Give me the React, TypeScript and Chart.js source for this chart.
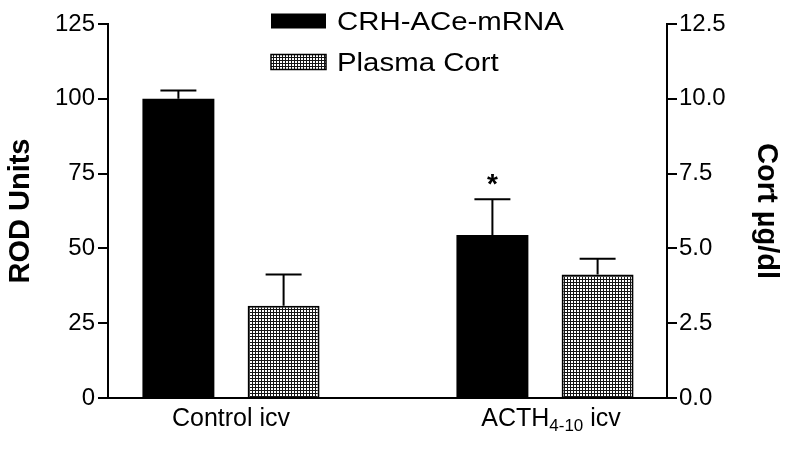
import React, { useEffect, useRef } from "react";
import { Chart, registerables } from "chart.js";

Chart.register(...registerables);

// ---- data ----
const categories: string[][] = [["Control icv"], ["ACTH", "4-10", " icv"]]; // odd segments are subscripts
const seriesNames = ["CRH-ACe-mRNA", "Plasma Cort"];
const rodValues = [100, 54.5];
const rodErrors = [2.8, 11.9];
const cortValues = [3.08, 4.13];
const cortErrors = [1.05, 0.52];
const significance = ["", "*"];
const leftTicks = [0, 25, 50, 75, 100, 125];
const rightTicks = [0, 2.5, 5, 7.5, 10, 12.5];
const leftTitle = "ROD Units";
const rightTitle = "Cort \u00B5g/dl";

const FONT = "'Liberation Sans', Arial, Helvetica, sans-serif";

export default function App() {
  const ref = useRef<HTMLCanvasElement | null>(null);

  useEffect(() => {
    const canvas = ref.current;
    if (!canvas) return;
    const ctx = canvas.getContext("2d")!;

    const pc = document.createElement("canvas");
    pc.width = 3;
    pc.height = 3;
    const p = pc.getContext("2d")!;
    p.fillStyle = "#ffffff";
    p.fillRect(0, 0, 3, 3);
    p.fillStyle = "#151515";
    p.fillRect(0, 0, 3, 1);
    p.fillRect(0, 0, 1, 3);
    const pattern = ctx.createPattern(pc, "repeat")!;

    const errorPlugin = {
      id: "errorBars",
      afterDatasetsDraw(chart: any) {
        const c = chart.ctx;
        c.save();
        c.strokeStyle = "#000";
        c.lineWidth = 2;
        chart.data.datasets.forEach((ds: any, di: number) => {
          const meta = chart.getDatasetMeta(di);
          const ys = chart.scales[ds.yAxisID];
          meta.data.forEach((bar: any, i: number) => {
            const v = ds.data[i].y;
            const e = ds.errors[i];
            const yTop = ys.getPixelForValue(v + e);
            const yBar = ys.getPixelForValue(v);
            const half = bar.width / 4;
            c.beginPath();
            c.moveTo(bar.x, yBar);
            c.lineTo(bar.x, yTop);
            c.moveTo(bar.x - half, yTop);
            c.lineTo(bar.x + half, yTop);
            c.stroke();
            const mark = ds.marks ? ds.marks[i] : "";
            if (mark) {
              c.fillStyle = "#000";
              c.font = `bold 28px ${FONT}`;
              c.textAlign = "center";
              c.textBaseline = "alphabetic";
              c.fillText(mark, bar.x, yTop - 6);
            }
          });
        });
        c.restore();
      },
    };

    const labelPlugin = {
      id: "catLabels",
      afterDraw(chart: any) {
        const c = chart.ctx;
        const xs = chart.scales.x;
        const base = chart.chartArea.bottom + 28;
        c.save();
        c.fillStyle = "#000";
        c.textBaseline = "alphabetic";
        c.textAlign = "left";
        categories.forEach((segs, i) => {
          const fonts = segs.map((_, k) => (k % 2 === 1 ? `17px ${FONT}` : `25px ${FONT}`));
          let total = 0;
          const widths = segs.map((s, k) => {
            c.font = fonts[k];
            const w = c.measureText(s).width;
            total += w;
            return w;
          });
          let x = xs.getPixelForValue(i) - total / 2 + (segs.length > 1 ? 6 : 0);
          segs.forEach((s, k) => {
            c.font = fonts[k];
            c.fillText(s, x, base + (k % 2 === 1 ? 5 : 0));
            x += widths[k];
          });
        });
        c.restore();
      },
    };

    const legendPlugin = {
      id: "customLegend",
      afterDraw(chart: any) {
        const c = chart.ctx;
        const left = chart.chartArea.left + 163;
        const rows = [21, 62];
        const stretch = 1.13;
        c.save();
        chart.data.datasets.forEach((ds: any, i: number) => {
          const cy = rows[i];
          c.fillStyle = ds.backgroundColor;
          c.fillRect(left, cy - 7.5, 55, 15);
          if (ds.borderWidth) {
            c.strokeStyle = "#000";
            c.lineWidth = 1.5;
            c.strokeRect(left, cy - 7.5, 55, 15);
          }
          c.save();
          c.translate(left + 66, cy + 2);
          c.scale(stretch, 1);
          c.fillStyle = "#000";
          c.font = `26px ${FONT}`;
          c.textAlign = "left";
          c.textBaseline = "middle";
          c.fillText(ds.label, 0, 0);
          c.restore();
        });
        c.restore();
      },
    };

    const tickFont = { family: FONT, size: 24 };
    const titleFont = { family: FONT, size: 29, weight: "bold" as const };

    const chart = new Chart(canvas, {
      type: "bar",
      data: {
        datasets: [
          {
            label: seriesNames[0],
            data: rodValues.map((v, i) => ({ x: i, y: v })),
            backgroundColor: "#000000",
            borderWidth: 0,
            yAxisID: "y",
            errors: rodErrors,
            marks: significance,
            categoryPercentage: 0.67,
            barPercentage: 0.684,
          } as any,
          {
            label: seriesNames[1],
            data: cortValues.map((v, i) => ({ x: i, y: v })),
            backgroundColor: pattern,
            borderColor: "#000000",
            borderWidth: 2,
            yAxisID: "y1",
            errors: cortErrors,
            categoryPercentage: 0.67,
            barPercentage: 0.684,
          } as any,
        ],
      },
      options: {
        animation: false,
        responsive: false,
        maintainAspectRatio: false,
        layout: { padding: { top: 24, left: 0, right: 0, bottom: 0 } },
        plugins: { legend: { display: false }, tooltip: { enabled: false } },
        scales: {
          x: {
            type: "linear",
            bounds: "data",
            offset: false,
            min: -0.3917,
            max: 1.3885,
            afterDataLimits: (s: any) => {
              s.min = -0.3917;
              s.max = 1.3885;
            },
            afterBuildTicks: (s: any) => {
              s.ticks = categories.map((_, i) => ({ value: i }));
              s.min = -0.3917;
              s.max = 1.3885;
            },
            afterFit: (s: any) => {
              s.height = 51;
            },
            ticks: { display: false },
            grid: { display: false, drawTicks: false, offset: false },
            border: { display: true, color: "#000", width: 2 },
          },
          y: {
            position: "left",
            min: 0,
            max: 125,
            afterBuildTicks: (s: any) => {
              s.ticks = leftTicks.map((v) => ({ value: v }));
            },
            afterFit: (s: any) => {
              s.width = 108;
            },
            ticks: { color: "#000", font: tickFont, padding: 3 },
            grid: { display: true, drawOnChartArea: false, drawTicks: true, tickLength: 10, color: "#000", lineWidth: 2 },
            border: { display: true, color: "#000", width: 2 },
            title: { display: true, text: leftTitle, color: "#000", font: titleFont, padding: { top: 4, bottom: 0 } },
          },
          y1: {
            position: "right",
            min: 0,
            max: 12.5,
            afterBuildTicks: (s: any) => {
              s.ticks = rightTicks.map((v) => ({ value: v }));
            },
            afterFit: (s: any) => {
              s.width = 125;
            },
            ticks: { color: "#000", font: tickFont, padding: 2, callback: (v: any) => Number(v).toFixed(1) },
            grid: { display: true, drawOnChartArea: false, drawTicks: true, tickLength: 10, color: "#000", lineWidth: 2 },
            border: { display: true, color: "#000", width: 2 },
            title: { display: true, text: rightTitle, color: "#000", font: titleFont, padding: { top: 9, bottom: 0 } },
          },
        },
      } as any,
      plugins: [errorPlugin, labelPlugin, legendPlugin],
    });

    return () => chart.destroy();
  }, []);

  return (
    <div style={{ position: "fixed", left: 0, top: 0, width: 792, height: 449, background: "#fff" }}>
      <canvas ref={ref} width={792} height={449} style={{ display: "block", width: 792, height: 449 }} />
    </div>
  );
}
